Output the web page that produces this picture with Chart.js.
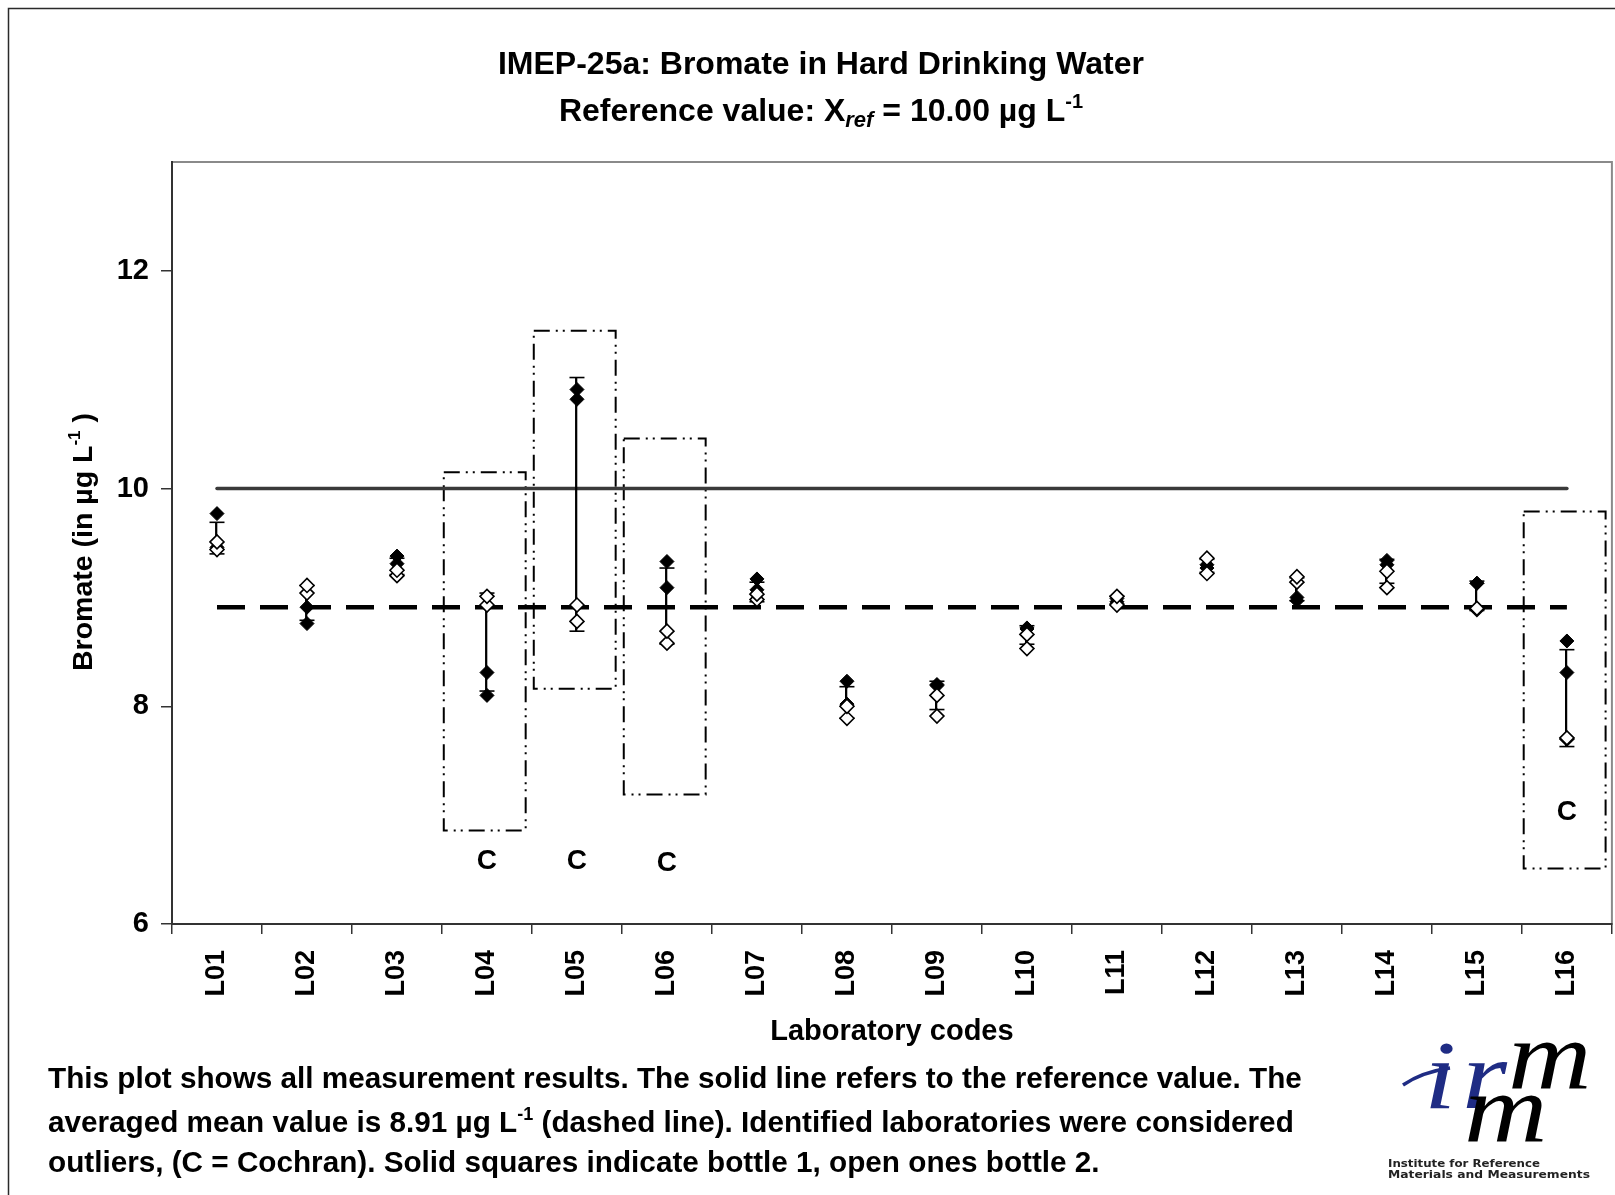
<!DOCTYPE html>
<html>
<head>
<meta charset="utf-8">
<script src="https://cdn.jsdelivr.net/npm/chart.js@4.4.1/dist/chart.umd.min.js"></script>
<style>
  html, body { margin: 0; padding: 0; background: #fff; overflow: hidden; }
</style>
</head>
<body>
<!-- a few px wider than the window: Chart.js keeps a marker-sized margin on the right -->
<canvas id="myChart" width="1621" height="1195"></canvas>
<script>
// LAB CODES
const labs = ['L01', 'L02', 'L03', 'L04', 'L05', 'L06', 'L07', 'L08',
              'L09', 'L10', 'L11', 'L12', 'L13', 'L14', 'L15', 'L16'];

// BOTTLE 1 (solid markers), two replicates
const bottle1RepA = [9.77, 8.91, 9.38, 8.31, 10.91, 9.33, 9.17, 8.23, 8.20, 8.72, 8.99, 9.30, 9.00, 9.34, 9.13, 8.60];
const bottle1RepB = [9.46, 8.76, 9.31, 8.10, 10.82, 9.09, 9.07, 8.02, 8.19, 8.71, 8.96, 9.27, 8.97, 9.30, 9.13, 8.31];

// BOTTLE 2 (open markers), two replicates
const bottle2RepA = [9.51, 9.11, 9.25, 9.01, 8.93, 8.69, 9.03, 8.00, 8.10, 8.66, 9.01, 9.36, 9.19, 9.24, 8.90, 7.71];
const bottle2RepB = [9.44, 9.04, 9.20, 8.93, 8.78, 8.58, 8.98, 7.89, 7.91, 8.53, 8.93, 9.22, 9.14, 9.09, 8.89, 7.70];

// ERROR BARS (mean +/- s)
const barLow  = [9.40, 8.79, 9.21, 8.14, 8.69, 8.57, 8.96, 7.89, 7.97, 8.57, 8.94, 9.23, 8.97, 9.13, 8.88, 7.63];
const barHigh = [9.69, 9.11, 9.36, 9.04, 11.02, 9.27, 9.14, 8.18, 8.23, 8.74, 9.01, 9.35, 9.18, 9.35, 9.15, 8.52];

// REFERENCE AND MEAN
const refValue = 10.00;
const meanValue = 8.91;

// OUTLIERS
const outlierLabs = ['L04', 'L05', 'L06', 'L16'];
const outlierTop = [10.15, 11.45, 10.46, 9.79];
const outlierBottom = [6.86, 8.16, 7.19, 6.51];
const outlierFlag = ['C', 'C', 'C', 'C'];
const outlierFlagY = [6.58, 6.58, 6.56, 7.03];

// Y AXIS
const yMin = 6;
const yMax = 13;
const yStep = 2;

const FONT = '"Liberation Sans", Arial, sans-serif';
const PAGE_W = 1615;

function drawRuns(c, runs, x, y, align) {
  let total = 0;
  runs.forEach(r => { c.font = r[1]; total += c.measureText(r[0]).width; });
  let cx = align === 'center' ? x - total / 2 : x;
  runs.forEach(r => {
    c.font = r[1];
    c.fillText(r[0], cx, y + (r[2] || 0));
    cx += c.measureText(r[0]).width;
  });
}

function fitText(c, text, x, y, width) {
  const w = c.measureText(text).width;
  c.save();
  c.translate(x, y);
  c.scale(width / w, 1);
  c.fillText(text, 0, 0);
  c.restore();
}

function wideGlyph(c, text, x, y, sx) {
  c.save();
  c.translate(x, y);
  c.scale(sx, 1);
  c.fillText(text, 0, 0);
  c.restore();
}

const boxDatasets = outlierLabs.map((lab, i) => {
  const k = labs.indexOf(lab);
  return {
    type: 'line',
    xAxisID: 'xb',
    data: [
      { x: k - 0.48, y: outlierTop[i] },
      { x: k + 0.43, y: outlierTop[i] },
      { x: k + 0.43, y: outlierBottom[i] },
      { x: k - 0.48, y: outlierBottom[i] },
      { x: k - 0.48, y: outlierTop[i] }
    ],
    borderColor: '#000',
    borderWidth: 2,
    borderDash: [16, 6, 2, 5, 2, 6],
    pointRadius: 0,
    fill: false,
    tension: 0,
    order: 10
  };
});

const textPlugin = {
  id: 'texts',
  beforeDraw(chart) {
    const c = chart.ctx;
    const a = chart.chartArea;
    c.save();
    c.fillStyle = '#fff';
    c.fillRect(0, 0, chart.width, chart.height);
    // outer frame
    c.strokeStyle = '#2a2a2a';
    c.lineWidth = 1.5;
    c.beginPath();
    c.moveTo(8.5, chart.height);
    c.lineTo(8.5, 8.5);
    c.lineTo(PAGE_W, 8.5);
    c.stroke();
    // plot area frame
    c.strokeStyle = '#8a8a8a';
    c.lineWidth = 2;
    c.strokeRect(a.left, a.top, a.right - a.left, a.bottom - a.top);
    c.restore();
  },
  afterDraw(chart) {
    const c = chart.ctx;
    const a = chart.chartArea;
    const xs = chart.scales.x;
    const ys = chart.scales.y;
    c.save();
    c.fillStyle = '#000';
    c.textAlign = 'left';
    c.textBaseline = 'alphabetic';

    // title
    drawRuns(c, [['IMEP-25a: Bromate in Hard Drinking Water', 'bold 32px ' + FONT]], 821, 74, 'center');
    drawRuns(c, [
      ['Reference value: X', 'bold 32px ' + FONT],
      ['ref', 'italic bold 22px ' + FONT, 6],
      [' = 10.00 \u00b5g L', 'bold 32px ' + FONT],
      ['-1', 'bold 20px ' + FONT, -13]
    ], 821, 121, 'center');

    // y title
    c.save();
    c.translate(82, 542);
    c.rotate(-Math.PI / 2);
    drawRuns(c, [
      ['Bromate (in \u00b5g L', 'bold 28.5px ' + FONT],
      ['-1', 'bold 17px ' + FONT, -12],
      [' )', 'bold 28.5px ' + FONT]
    ], 0, 10, 'center');
    c.restore();

    // x title
    drawRuns(c, [['Laboratory codes', 'bold 29px ' + FONT]], (a.left + a.right) / 2, 1040, 'center');

    // outlier flags
    c.textAlign = 'center';
    c.textBaseline = 'middle';
    c.font = 'bold 28px ' + FONT;
    outlierLabs.forEach((lab, i) => {
      c.fillText(outlierFlag[i], xs.getPixelForValue(labs.indexOf(lab)), ys.getPixelForValue(outlierFlagY[i]));
    });
    c.textAlign = 'left';
    c.textBaseline = 'alphabetic';

    // footer
    const fb = 'bold 29.7px ' + FONT;
    drawRuns(c, [['This plot shows all measurement results. The solid line refers to the reference value. The', fb]], 48, 1088, 'left');
    drawRuns(c, [
      ['averaged mean value is 8.91 \u00b5g L', fb],
      ['-1', 'bold 18px ' + FONT, -12],
      [' (dashed line). Identified laboratories were considered', fb]
    ], 48, 1132, 'left');
    drawRuns(c, [['outliers, (C = Cochran). Solid squares indicate bottle 1, open ones bottle 2.', fb]], 48, 1172, 'left');

    // irmm logo
    const blue = '#1f2c84';
    c.font = 'italic 98px "Liberation Serif", serif';
    c.fillStyle = blue;
    wideGlyph(c, 'i', 1424, 1108, 1.18);
    wideGlyph(c, 'r', 1462, 1108, 1.18);
    c.fillStyle = '#000';
    wideGlyph(c, 'm', 1508, 1088, 1.18);
    wideGlyph(c, 'm', 1464, 1141, 1.18);
    c.strokeStyle = blue;
    c.lineWidth = 3.5;
    c.beginPath();
    c.moveTo(1403, 1085);
    c.quadraticCurveTo(1422, 1072, 1450, 1068);
    c.stroke();
    c.fillStyle = '#222';
    c.font = 'bold 11px "DejaVu Sans", sans-serif';
    fitText(c, 'Institute for Reference', 1388, 1167, 152);
    fitText(c, 'Materials and Measurements', 1388, 1178, 202);
    c.restore();
  }
};

const ctx = document.getElementById('myChart');

new Chart(ctx, {
  type: 'line',
  data: {
    labels: labs,
    datasets: [
      {
        label: 'Bottle 2',
        data: bottle2RepA,
        showLine: false,
        pointStyle: 'rectRot',
        pointRadius: 7,
        pointBackgroundColor: '#fff',
        pointBorderColor: '#000',
        pointBorderWidth: 1.6,
        order: 1
      },
      {
        label: 'Bottle 2 b',
        data: bottle2RepB,
        showLine: false,
        pointStyle: 'rectRot',
        pointRadius: 7,
        pointBackgroundColor: '#fff',
        pointBorderColor: '#000',
        pointBorderWidth: 1.6,
        order: 1
      },
      {
        label: 'Bottle 1',
        data: bottle1RepA,
        showLine: false,
        pointStyle: 'rectRot',
        pointRadius: 7,
        pointBackgroundColor: '#000',
        pointBorderColor: '#000',
        pointBorderWidth: 1,
        order: 2
      },
      {
        label: 'Bottle 1 b',
        data: bottle1RepB,
        showLine: false,
        pointStyle: 'rectRot',
        pointRadius: 7,
        pointBackgroundColor: '#000',
        pointBorderColor: '#000',
        pointBorderWidth: 1,
        order: 2
      },
      {
        label: 'Upper cap',
        data: barHigh,
        showLine: false,
        pointStyle: 'line',
        pointRadius: 7.5,
        pointBorderColor: '#000',
        pointBorderWidth: 1.6,
        order: 6
      },
      {
        label: 'Lower cap',
        data: barLow,
        showLine: false,
        pointStyle: 'line',
        pointRadius: 7.5,
        pointBorderColor: '#000',
        pointBorderWidth: 1.6,
        order: 6
      },
      {
        type: 'bar',
        label: 'Spread',
        data: labs.map((_, i) => [barLow[i], barHigh[i]]),
        backgroundColor: '#000',
        borderWidth: 0,
        barThickness: 1.6,
        order: 7
      },
      {
        label: 'Mean',
        data: labs.map(() => meanValue),
        borderColor: '#000',
        borderWidth: 4.5,
        borderDash: [28, 15],
        borderCapStyle: 'butt',
        pointRadius: 0,
        order: 8
      },
      {
        label: 'Reference',
        data: labs.map(() => refValue),
        borderColor: '#3a3a3a',
        borderWidth: 3.5,
        borderCapStyle: 'round',
        pointRadius: 0,
        order: 9
      },
      ...boxDatasets
    ]
  },
  options: {
    responsive: false,
    animation: false,
    events: [],
    layout: { padding: { top: 162, right: 0, left: 0, bottom: 0 } },
    plugins: {
      legend: { display: false },
      tooltip: { enabled: false }
    },
    scales: {
      x: {
        type: 'category',
        offset: true,
        grid: {
          offset: true,
          drawOnChartArea: false,
          drawTicks: true,
          tickLength: 10,
          color: '#333',
          lineWidth: 1.5
        },
        border: { color: '#333', width: 2 },
        ticks: {
          color: '#000',
          font: { family: FONT, size: 27, weight: 'bold' },
          minRotation: 90,
          maxRotation: 90,
          autoSkip: false,
          padding: 16
        },
        afterFit: (scale) => {
          scale.height = 271;
          scale.paddingLeft = 0;
          scale.paddingRight = 0;
        }
      },
      xb: {
        type: 'linear',
        min: -0.5,
        max: 15.5,
        display: false
      },
      y: {
        type: 'linear',
        min: yMin,
        max: yMax,
        grid: {
          drawOnChartArea: false,
          drawTicks: true,
          tickLength: 11,
          color: '#333',
          lineWidth: 1.5
        },
        border: { color: '#333', width: 2 },
        ticks: {
          stepSize: yStep,
          includeBounds: false,
          color: '#000',
          font: { family: FONT, size: 29, weight: 'bold' },
          padding: 12
        },
        afterFit: (scale) => { scale.width = 172; }
      }
    }
  },
  plugins: [textPlugin]
});
</script>
</body>
</html>
